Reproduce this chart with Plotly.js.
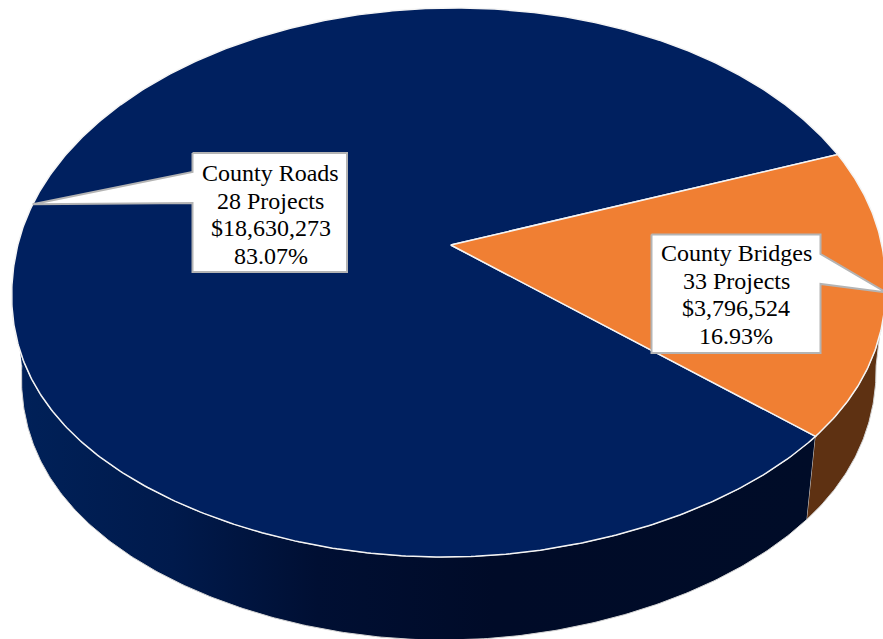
<!DOCTYPE html>
<html>
<head>
<meta charset="utf-8">
<script src="https://cdn.plot.ly/plotly-3.0.1.min.js"></script>
<style>html,body{margin:0;padding:0;background:#fff}#chart{width:883px;height:639px}</style>
</head>
<body>
<div id="chart"></div>
<script>
// Project totals by category
const categories = ["County Roads", "County Bridges"];
const projects = [28, 33];
const amounts = [18630273, 3796524];
const shareLabels = ["83.07%", "16.93%"];
const amountLabels = ["$18,630,273", "$3,796,524"];

// Perspective disc: the pie's centre sits above the centre of its outline.
// skew leans the disc slightly, bulge fills out the near half of the rim.
const view = {cx: 449.8, cy: 245, a: 432, b: 269.4, k: 0.1366, skew: 6, bulge: 0.025, depth: 83, vanishY: 4000, width: 883, height: 639};
const startDeg = 20.6;
const navy = "#00205F", orange = "#F07F33", brown = "#5E3112";

const total = amounts.reduce((s, v) => s + v, 0);
const sweeps = amounts.map(v => v / total * 360);

function topRim(deg) {
  const t = deg * Math.PI / 180, u = Math.cos(t), v = Math.sin(t), w = 1 + view.k * v;
  const fill = v < 0 ? 1 + view.bulge * Math.sin(2 * t) ** 2 : 1;
  return [view.cx + (view.a * u * fill + view.skew * v) / w, view.cy - view.b * v / w];
}
function lowerRim(deg) {
  const [x, y] = topRim(deg);
  const shrink = 1 - view.depth / (view.vanishY - y);
  return [view.cx + (x - view.cx) * shrink, y + view.depth];
}
function arc(fn, from, to) {
  const n = Math.max(2, Math.ceil(Math.abs(to - from) * 2)), pts = [];
  for (let i = 0; i <= n; i++) pts.push(fn(from + (to - from) * i / n));
  return pts;
}
function poly(pts, style) {
  return Object.assign({
    type: "scatter", mode: "lines", fill: "toself", hoverinfo: "skip", showlegend: false,
    x: pts.map(p => p[0]), y: pts.map(p => p[1])
  }, style);
}

// Slices run counter-clockwise from the shared edge at startDeg
const roadsEnd = startDeg + sweeps[0];
const bridgesEnd = roadsEnd + sweeps[1];
const roadsMid = startDeg + sweeps[0] / 2;
const bridgesMid = roadsEnd + sweeps[1] / 2;

// Side walls, only the part of the rim that faces the viewer
const tangent = Math.asin(view.k) * 180 / Math.PI;
const wallLeft = 180 + tangent, wallRight = 360 - tangent, wallSplit = roadsEnd;
const wallLine = {color: "#d4d4d4", width: 1};
const roadsWall = poly(arc(topRim, wallLeft, wallSplit).concat(arc(lowerRim, wallSplit, wallLeft)), {
  line: wallLine,
  fillgradient: {type: "horizontal", colorscale: [[0, "#002159"], [0.2, "#001a4c"], [0.38, "#000f33"], [0.6, "#000b28"], [1, "#000c28"]]}
});
const bridgesWall = poly(arc(topRim, wallSplit, wallRight).concat(arc(lowerRim, wallRight, wallSplit)), {
  line: wallLine, fillcolor: brown
});

// Top faces
const discLine = {color: "#f4f4f4", width: 1.5};
const apex = [view.cx + 1, view.cy];
const roadsTop = poly([apex].concat(arc(topRim, startDeg, roadsEnd), [apex]), {line: discLine, fillcolor: navy});
const bridgesTop = poly([apex].concat(arc(topRim, roadsEnd, bridgesEnd), [apex]), {line: discLine, fillcolor: orange});

// Label boxes with a pointer reaching the rim near the middle of each slice
const boxLine = {color: "#b4b4b4", width: 2};
const roadsBox = {l: 192.5, r: 347, t: 153, b: 272, y: 173};
const bridgesBox = {l: 651.5, r: 820.5, t: 234.5, b: 353, y: 253};
const roadsCallout = poly([
  [roadsBox.l, roadsBox.t], [roadsBox.r, roadsBox.t], [roadsBox.r, roadsBox.b], [roadsBox.l, roadsBox.b],
  [roadsBox.l, 203], topRim(roadsMid + 1), [roadsBox.l, 172], [roadsBox.l, roadsBox.t]
], {line: boxLine, fillcolor: "#fff"});
const bridgesCallout = poly([
  [bridgesBox.l, bridgesBox.t], [bridgesBox.r, bridgesBox.t], [bridgesBox.r, 254], topRim(bridgesMid), [bridgesBox.r, 284],
  [bridgesBox.r, bridgesBox.b], [bridgesBox.l, bridgesBox.b], [bridgesBox.l, bridgesBox.t]
], {line: boxLine, fillcolor: "#fff"});

// Each label line is placed on its own so the leading stays tight
function labelLines(i, box, dx) {
  const lines = [categories[i], projects[i] + " Projects", amountLabels[i], shareLabels[i]];
  return lines.map((text, n) => ({
    text, x: (box.l + box.r) / 2 + dx, y: box.y + n * 27.5, xref: "x", yref: "y",
    xanchor: "center", yanchor: "middle", showarrow: false,
    font: {family: "Liberation Serif, Times New Roman, serif", size: 24, color: "#000"}
  }));
}

Plotly.newPlot("chart",
  [roadsWall, bridgesWall, roadsTop, bridgesTop, roadsCallout, bridgesCallout],
  {
    width: view.width, height: view.height,
    margin: {l: 0, r: 0, t: 0, b: 0},
    paper_bgcolor: "#fff", plot_bgcolor: "#fff",
    showlegend: false,
    xaxis: {range: [0, view.width], visible: false, fixedrange: true},
    yaxis: {range: [view.height, 0], visible: false, fixedrange: true},
    annotations: labelLines(0, roadsBox, 1).concat(labelLines(1, bridgesBox, 0))
  },
  {displayModeBar: false, staticPlot: true}
);
</script>
</body>
</html>
